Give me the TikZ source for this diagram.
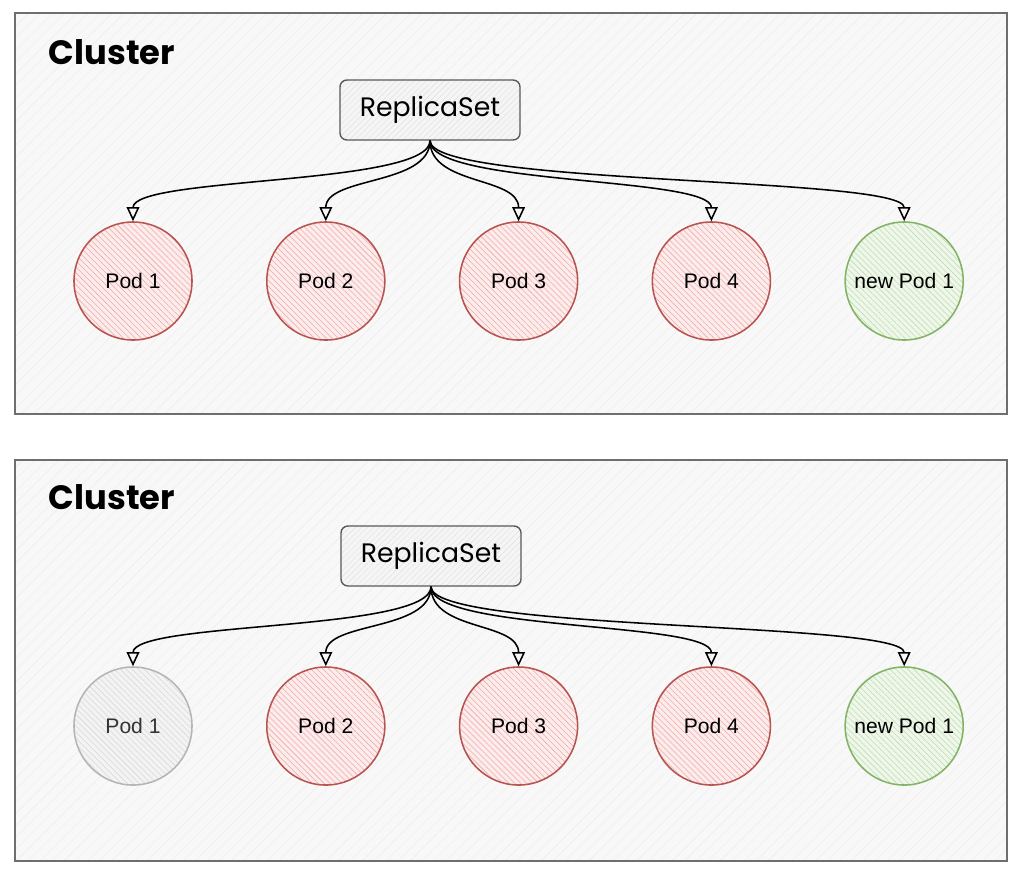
\documentclass[tikz,border=0pt]{standalone}
\usepackage{fontspec}
\setmainfont{Liberation Sans}
\newfontfamily\handfont{Poppins}
\usetikzlibrary{arrows.meta,positioning,patterns.meta}
\definecolor{PodRed}{HTML}{B85450}
\definecolor{PodRedFill}{HTML}{FCECEC}
\definecolor{PodRedHatch}{HTML}{F0A9A9}
\definecolor{PodGreen}{HTML}{82B366}
\definecolor{PodGreenFill}{HTML}{EFF7EB}
\definecolor{PodGreenHatch}{HTML}{BEDCAE}
\definecolor{PodGray}{HTML}{B5B5B5}
\definecolor{PodGrayFill}{HTML}{F3F3F3}
\definecolor{PodGrayHatch}{HTML}{D8D8D8}
\definecolor{ClusterGray}{HTML}{6E6E6E}
\definecolor{ClusterFill}{HTML}{F8F8F8}
\tikzset{
  cluster/.style={rectangle,draw=ClusterGray,line width=1pt,minimum width=24.8cm,minimum height=10.025cm,
    preaction={fill=ClusterFill},
    preaction={pattern={Lines[angle=45,distance=6pt,line width=0.3pt]},pattern color=black!7}},
  clusterlabel/.style={anchor=west,font=\handfont\bfseries\fontsize{24}{28}\selectfont},
  rsbox/.style={rectangle,rounded corners=5pt,draw=black!65,line width=1pt,minimum width=4.5cm,minimum height=1.5cm,
    font=\handfont\fontsize{19}{22}\selectfont,
    preaction={fill=black!4},
    preaction={pattern={Lines[angle=45,distance=3pt,line width=0.3pt]},pattern color=black!12}},
  pod/.style={circle,draw=PodRed,line width=1.1pt,minimum size=2.95cm,inner sep=0pt,
    font=\fontsize{15}{18}\selectfont,
    preaction={fill=PodRedFill},
    preaction={pattern={Lines[angle=-45,distance=3pt,line width=0.4pt]},pattern color=PodRedHatch}},
  newpod/.style={circle,draw=PodGreen,line width=1.1pt,minimum size=2.95cm,inner sep=0pt,
    font=\fontsize{15}{18}\selectfont,
    preaction={fill=PodGreenFill},
    preaction={pattern={Lines[angle=-45,distance=3pt,line width=0.4pt]},pattern color=PodGreenHatch}},
  deadpod/.style={circle,draw=PodGray,line width=1.1pt,minimum size=2.95cm,inner sep=0pt,
    font=\fontsize{15}{18}\selectfont,text=black!80,
    preaction={fill=PodGrayFill},
    preaction={pattern={Lines[angle=-45,distance=3pt,line width=0.4pt]},pattern color=PodGrayHatch}},
  link/.style={-{Triangle[open,length=10pt,width=9pt]},line width=1.1pt,black},
}

\begin{document}
\begin{tikzpicture}[x=0.025cm,y=-0.025cm, node distance=1.83cm]
  \useasboundingbox (0,0) rectangle (1024,877);

  % Before: all four pods
  \node[cluster] (clusterA) at (511,213.5) {};
  \node[clusterlabel] (labelA) at (44,52) {Cluster};
  \node[rsbox] (rsA) at (430,110) {ReplicaSet};

  \node[pod] (podA1) at (133,281) {Pod 1};
  \node[pod, right=of podA1] (podA2) {Pod 2};
  \node[pod, right=of podA2] (podA3) {Pod 3};
  \node[pod, right=of podA3] (podA4) {Pod 4};
  \node[newpod, right=of podA4] (podA5) {new Pod 1};

  \draw[link] (rsA.south) .. controls +(0,45) and +(0,-45) .. (podA1.north);
  \draw[link] (rsA.south) .. controls +(0,45) and +(0,-45) .. (podA2.north);
  \draw[link] (rsA.south) .. controls +(0,45) and +(0,-45) .. (podA3.north);
  \draw[link] (rsA.south) .. controls +(0,45) and +(0,-45) .. (podA4.north);
  \draw[link] (rsA.south) .. controls +(0,45) and +(0,-45) .. (podA5.north);

  % After: pod 1 gone
  \node[cluster] (clusterB) at (511,660.5) {};
  \node[clusterlabel] (labelB) at (44,497) {Cluster};
  \node[rsbox] (rsB) at (431,556) {ReplicaSet};

  \node[deadpod] (podB1) at (133,726) {Pod 1};
  \node[pod, right=of podB1] (podB2) {Pod 2};
  \node[pod, right=of podB2] (podB3) {Pod 3};
  \node[pod, right=of podB3] (podB4) {Pod 4};
  \node[newpod, right=of podB4] (podB5) {new Pod 1};

  \draw[link] (rsB.south) .. controls +(0,45) and +(0,-45) .. (podB1.north);
  \draw[link] (rsB.south) .. controls +(0,45) and +(0,-45) .. (podB2.north);
  \draw[link] (rsB.south) .. controls +(0,45) and +(0,-45) .. (podB3.north);
  \draw[link] (rsB.south) .. controls +(0,45) and +(0,-45) .. (podB4.north);
  \draw[link] (rsB.south) .. controls +(0,45) and +(0,-45) .. (podB5.north);
\end{tikzpicture}
\end{document}
